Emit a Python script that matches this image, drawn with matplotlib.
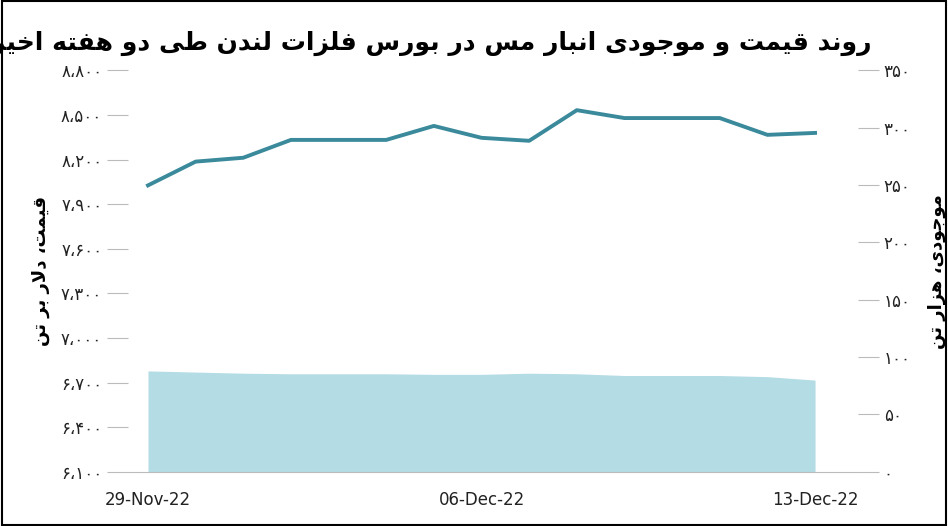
import matplotlib
matplotlib.use("Agg")
import matplotlib.pyplot as plt
import matplotlib.dates as mdates
import numpy as np
import pandas as pd

dates = pd.date_range("2022-11-29", "2022-12-13", freq="D")
price = [8027, 8187, 8213, 8333, 8333, 8333, 8427, 8347, 8327, 8533, 8480, 8480, 8480, 8367, 8380]
stock = [88, 87, 86, 85.5, 85.5, 85.5, 85, 85, 86, 85.5, 84, 84, 84, 83, 80]
xtick_dates = ["2022-11-29", "2022-12-06", "2022-12-13"]
title_txt = "روند قیمت و موجودی انبار مس در بورس فلزات لندن طی دو هفته اخیر"
ylab_left = "قیمت، دلار بر تن"
ylab_right = "موجودی، هزار تن"

FORMS = {
    'ا': (0xFE8D, 0xFE8E, None, None), 'ب': (0xFE8F, 0xFE90, 0xFE91, 0xFE92),
    'ت': (0xFE95, 0xFE96, 0xFE97, 0xFE98), 'ج': (0xFE9D, 0xFE9E, 0xFE9F, 0xFEA0),
    'خ': (0xFEA5, 0xFEA6, 0xFEA7, 0xFEA8), 'د': (0xFEA9, 0xFEAA, None, None),
    'ر': (0xFEAD, 0xFEAE, None, None), 'ز': (0xFEAF, 0xFEB0, None, None),
    'س': (0xFEB1, 0xFEB2, 0xFEB3, 0xFEB4), 'ط': (0xFEC1, 0xFEC2, 0xFEC3, 0xFEC4),
    'ف': (0xFED1, 0xFED2, 0xFED3, 0xFED4), 'ق': (0xFED5, 0xFED6, 0xFED7, 0xFED8),
    'ل': (0xFEDD, 0xFEDE, 0xFEDF, 0xFEE0), 'م': (0xFEE1, 0xFEE2, 0xFEE3, 0xFEE4),
    'ن': (0xFEE5, 0xFEE6, 0xFEE7, 0xFEE8), 'ه': (0xFEE9, 0xFEEA, 0xFEEB, 0xFEEC),
    'و': (0xFEED, 0xFEEE, None, None), 'ی': (0xFBFC, 0xFBFD, 0xFBFE, 0xFBFF),
}

def shape(s):
    toks = []
    i = 0
    while i < len(s):
        if s[i] == 'ل' and i + 1 < len(s) and s[i+1] == 'ا':
            toks.append('LA'); i += 2
        else:
            toks.append(s[i]); i += 1
    def joins_next(t):
        if t == 'LA': return False
        return t in FORMS and FORMS[t][2] is not None
    def is_letter(t):
        return t == 'LA' or t in FORMS
    out = []
    for k, t in enumerate(toks):
        prev = toks[k-1] if k > 0 else None
        nxt = toks[k+1] if k + 1 < len(toks) else None
        jp = prev is not None and joins_next(prev)
        jn = nxt is not None and is_letter(nxt) and joins_next(t)
        if t == 'LA':
            out.append(chr(0xFEFC if jp else 0xFEFB)); continue
        if t not in FORMS:
            out.append(t); continue
        iso, fin, ini, med = FORMS[t]
        if jp and jn: c = med
        elif jp: c = fin
        elif jn: c = ini
        else: c = iso
        out.append(chr(c))
    return ''.join(out)[::-1]

PD = str.maketrans("0123456789", "۰۱۲۳۴۵۶۷۸۹")
def fa_num(v):
    s = f"{int(v):,}".replace(",", "،")
    return s.translate(PD)

plt.rcParams['font.family'] = ['DejaVu Sans']
fig = plt.figure(figsize=(9.48, 5.26), dpi=100)
ax = fig.add_axes([0.135, 0.103, 0.77, 0.763])
ax2 = ax.twinx()
ax.set_zorder(2); ax.patch.set_visible(False)

ax2.fill_between(dates, stock, 0, color="#b4dce4", lw=0)
ax2.set_ylim(0, 350)
ax2.set_yticks(np.arange(0, 351, 50))
ax2.set_yticklabels([fa_num(v) for v in np.arange(0, 351, 50)])

ax.plot(dates, price, color="#3a8a9c", lw=2.8)
ax.set_ylim(6100, 8800)
ax.set_yticks(np.arange(6100, 8801, 300))
ax.set_yticklabels([fa_num(v) for v in np.arange(6100, 8801, 300)])
ax.set_xlim(dates[0] - pd.Timedelta(days=0.42), dates[-1] + pd.Timedelta(days=0.9))
ax.set_xticks(pd.to_datetime(xtick_dates))
ax.xaxis.set_major_formatter(mdates.DateFormatter("%d-%b-%y"))

for a in (ax, ax2):
    for sp in a.spines.values():
        sp.set_visible(False)
    a.tick_params(axis='y', length=15, color="#bbbbbb", labelsize=12, labelcolor="#222222", width=0.8)
ax.tick_params(axis='x', length=0, labelsize=12, labelcolor="#222222", pad=14)
ax.spines['bottom'].set_visible(True); ax.spines['bottom'].set_color("#bbbbbb")

ax.set_ylabel(shape(ylab_left), fontsize=13, fontweight='bold', rotation=90, labelpad=8)
ax2.set_ylabel(shape(ylab_right), fontsize=13, fontweight='bold', rotation=90, labelpad=12)
fig.text(0.455, 0.905, shape(title_txt), fontsize=18, fontweight='bold', ha='center')
fig.patches.append(plt.Rectangle((0.002, 0.002), 0.996, 0.996, transform=fig.transFigure,
                                 fill=False, ec="black", lw=1.5))
fig.savefig("out.png", dpi=100)
